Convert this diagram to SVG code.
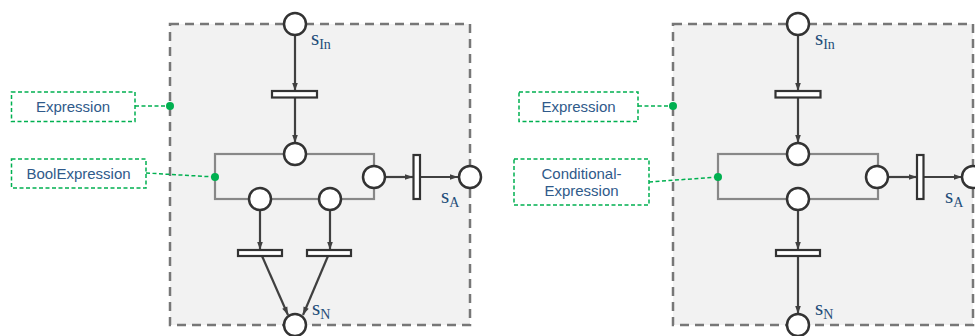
<svg xmlns="http://www.w3.org/2000/svg" width="975" height="336" viewBox="0 0 975 336">
<defs>
<marker id="ah" viewBox="0 0 10 10" refX="10" refY="5" markerWidth="9" markerHeight="8" orient="auto" markerUnits="userSpaceOnUse">
<path d="M0,1.5 L10,5 L0,8.5 Z" fill="#404040"/>
</marker>
<style>
.frame{fill:#f2f2f2;stroke:#777;stroke-width:2.5;stroke-dasharray:9,6}
.sub{fill:none;stroke:#888;stroke-width:2.2}
.place{fill:#fff;stroke:#333;stroke-width:2.5}
.trans{fill:#fff;stroke:#333;stroke-width:2.2}
.arc{stroke:#404040;stroke-width:2.2;fill:none;marker-end:url(#ah)}
.note{fill:#fff;stroke:#00b050;stroke-width:1.5;stroke-dasharray:4,2.5}
.lead{stroke:#00b050;stroke-width:1.5;stroke-dasharray:4,2.5;fill:none}
.dot{fill:#00b050}
.lbl{font-family:"Liberation Sans",Arial,sans-serif;font-size:15px;fill:#2f5a8a;text-anchor:middle}
.s{font-family:"Liberation Serif","DejaVu Serif",serif;font-size:21px;fill:#1f4e79}
.ss{font-family:"Liberation Serif","DejaVu Serif",serif;font-size:14px;fill:#1f4e79}
</style>
</defs>

<!-- Left diagram -->
<g id="frameL"><rect class="frame" x="170" y="24" width="300" height="301"/></g>
<g id="subnetL"><rect class="sub" x="215" y="154" width="159" height="45"/></g>
<g id="connectorsL">
<line class="arc" x1="295" y1="35" x2="295" y2="91"/>
<line class="arc" x1="295" y1="98" x2="295" y2="143"/>
<line class="arc" x1="385" y1="177" x2="413" y2="177"/>
<line class="arc" x1="420" y1="177" x2="458" y2="177"/>
<line class="arc" x1="260" y1="210" x2="260" y2="250"/>
<line class="arc" x1="330" y1="210" x2="330" y2="250"/>
<line class="arc" x1="262" y1="256" x2="288" y2="315"/>
<line class="arc" x1="328" y1="256" x2="303" y2="315"/>
<line class="lead" x1="135" y1="106" x2="170" y2="106"/>
<line class="lead" x1="146" y1="173" x2="215" y2="177"/>
</g>
<g id="pInL"><circle class="place" cx="295" cy="24" r="11"/><text class="s" x="311" y="45">s<tspan class="ss" dy="4">In</tspan></text></g>
<g id="t1L"><rect class="trans" x="272" y="91" width="45" height="6.5"/></g>
<g id="p1L"><circle class="place" cx="295" cy="154" r="11"/></g>
<g id="p2L"><circle class="place" cx="374" cy="177" r="11"/></g>
<g id="tAL"><rect class="trans" x="413.5" y="155" width="6.5" height="44"/></g>
<g id="pAL"><circle class="place" cx="470" cy="177" r="11"/><text class="s" x="441" y="203">s<tspan class="ss" dy="4">A</tspan></text></g>
<g id="p3L"><circle class="place" cx="260" cy="199" r="11"/></g>
<g id="p4L"><circle class="place" cx="330" cy="199" r="11"/></g>
<g id="t2L"><rect class="trans" x="238" y="250" width="44" height="6"/></g>
<g id="t3L"><rect class="trans" x="307" y="250" width="44" height="6"/></g>
<g id="pNL"><circle class="place" cx="295" cy="325" r="11"/><text class="s" x="312" y="315">s<tspan class="ss" dy="4">N</tspan></text></g>
<g id="noteExprL"><rect class="note" x="11.5" y="92" width="123.5" height="29.5"/><text class="lbl" x="73" y="112">Expression</text><circle class="dot" cx="170" cy="106" r="4"/></g>
<g id="noteBoolL"><rect class="note" x="11.5" y="159" width="134.5" height="29"/><text class="lbl" x="78.5" y="179">BoolExpression</text><circle class="dot" cx="215" cy="177" r="4"/></g>

<!-- Right diagram -->
<g id="frameR"><rect class="frame" x="673" y="24" width="300" height="301"/></g>
<g id="subnetR"><rect class="sub" x="718" y="154" width="160" height="45"/></g>
<g id="connectorsR">
<line class="arc" x1="798" y1="35" x2="798" y2="91"/>
<line class="arc" x1="798" y1="98" x2="798" y2="143"/>
<line class="arc" x1="888" y1="177" x2="917" y2="177"/>
<line class="arc" x1="923.5" y1="177" x2="962" y2="177"/>
<line class="arc" x1="798" y1="210" x2="798" y2="250"/>
<line class="arc" x1="798" y1="256" x2="798" y2="314"/>
<line class="lead" x1="638" y1="106" x2="673" y2="106"/>
<line class="lead" x1="649" y1="182" x2="718" y2="177"/>
</g>
<g id="pInR"><circle class="place" cx="798" cy="24" r="11"/><text class="s" x="815" y="45">s<tspan class="ss" dy="4">In</tspan></text></g>
<g id="t1R"><rect class="trans" x="775.5" y="91" width="45" height="6.5"/></g>
<g id="p1R"><circle class="place" cx="798" cy="154" r="11"/></g>
<g id="p2R"><circle class="place" cx="877" cy="177" r="11"/></g>
<g id="tAR"><rect class="trans" x="917" y="155" width="6.5" height="44"/></g>
<g id="pAR"><circle class="place" cx="973" cy="177" r="11"/><text class="s" x="945" y="203">s<tspan class="ss" dy="4">A</tspan></text></g>
<g id="p3R"><circle class="place" cx="798" cy="199" r="11"/></g>
<g id="t2R"><rect class="trans" x="776" y="250" width="44" height="6"/></g>
<g id="pNR"><circle class="place" cx="798" cy="325" r="11"/><text class="s" x="815" y="315">s<tspan class="ss" dy="4">N</tspan></text></g>
<g id="noteExprR"><rect class="note" x="519" y="92" width="119" height="29.5"/><text class="lbl" x="578.5" y="112">Expression</text><circle class="dot" cx="673" cy="106" r="4"/></g>
<g id="noteCondR"><rect class="note" x="514" y="159" width="135" height="46"/><text class="lbl" x="581.5" y="179">Conditional-</text><text class="lbl" x="581.5" y="196">Expression</text><circle class="dot" cx="718" cy="177" r="4"/></g>
</svg>
